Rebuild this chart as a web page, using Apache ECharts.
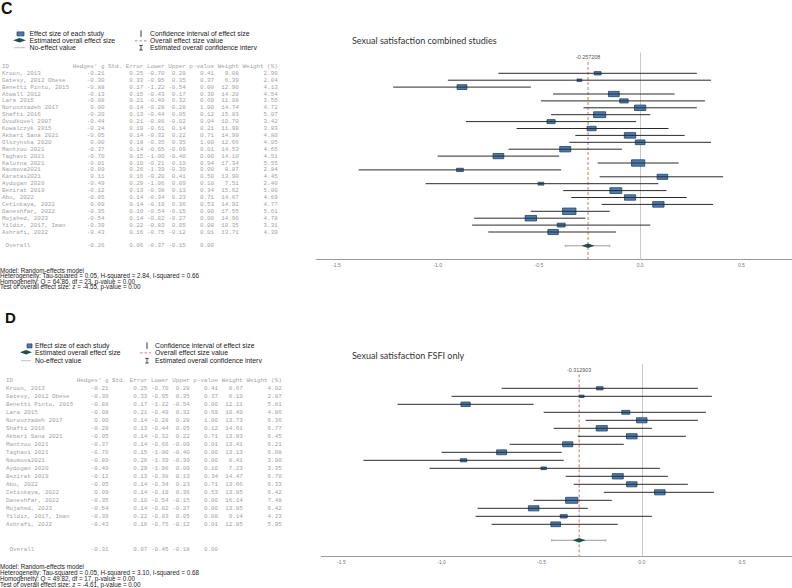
<!DOCTYPE html>
<html><head><meta charset="utf-8">
<script src="https://cdn.jsdelivr.net/npm/echarts@6/dist/echarts.min.js"></script>
<style>html,body{margin:0;padding:0;background:#fff}#c{width:792px;height:588px}</style>
</head><body><div id="c"></div>
<script>
// ---------- Panel C data (combined studies) ----------
const cIds = ["Kroon, 2013","Gatesy, 2012 Obese","Benetti Pinto, 2015","Atwall 2012","Lara 2015","Norouzzadeh 2017","Shafti 2016","Ovodkovel 2007","Kowalczyk 2015","Akbari Sana 2021","Olszynska 2020","Mantzou 2021","Taghavi 2021","Kaluzna 2021","Naumova2021","Karatas2021","Aydogan 2020","Bezirat 2019","Abu, 2022","Cetinkaya, 2022","Daneshfar, 2022","Mojahed, 2023","Yildiz, 2017, Iman","Ashrafi, 2022"];
const cG  = [-0.21,-0.30,-0.88,-0.13,-0.08,0.00,-0.20,-0.44,-0.24,-0.05,0.00,-0.37,-0.70,-0.01,-0.89,0.11,-0.49,-0.12,-0.05,0.09,-0.35,-0.54,-0.39,-0.43];
const cSE = [0.25,0.33,0.17,0.15,0.21,0.14,0.13,0.21,0.19,0.14,0.18,0.14,0.15,0.10,0.26,0.16,0.29,0.13,0.14,0.14,0.10,0.14,0.22,0.16];
const cLo = [-0.70,-0.95,-1.22,-0.43,-0.49,-0.28,-0.44,-0.86,-0.61,-0.32,-0.35,-0.65,-1.00,-0.21,-1.39,-0.20,-1.06,-0.38,-0.34,-0.19,-0.54,-0.82,-0.83,-0.75];
const cUp = [0.28,0.35,-0.54,0.17,0.32,0.28,0.05,-0.02,0.14,0.22,0.35,-0.09,-0.40,0.19,-0.39,0.41,0.09,0.13,0.23,0.36,-0.15,-0.27,0.05,-0.12];
const cP  = [0.41,0.37,0.00,0.39,0.69,1.00,0.12,0.04,0.21,0.71,1.00,0.01,0.00,0.94,0.00,0.50,0.10,0.34,0.71,0.53,0.00,0.00,0.08,0.01];
const cW  = [9.08,6.39,12.90,14.20,11.08,14.74,15.83,10.70,11.98,14.99,12.66,14.53,14.10,17.34,8.87,13.90,7.51,15.62,14.67,14.92,17.55,14.96,10.35,13.71];
const cWp = [2.90,2.04,4.13,4.54,3.55,4.72,5.07,3.42,3.83,4.80,4.05,4.65,4.51,5.55,2.84,4.45,2.40,5.00,4.69,4.77,5.61,4.78,3.31,4.39];
const cOverall = [-0.26,0.06,-0.37,-0.15,0.00];
const cOverallExact = -0.257208;
const cStats = ["Model: Random-effects model","Heterogeneity: Tau-squared = 0.05, H-squared = 2.84, I-squared = 0.66","Homogeneity: Q = 64.86, df = 23, p-value = 0.00","Test of overall effect size: z = -4.55, p-value = 0.00"];

// ---------- Panel D data (FSFI only) ----------
const dIds = ["Kroon, 2013","Gatesy, 2012 Obese","Benetti Pinto, 2015","Lara 2015","Norouzzadeh 2017","Shafti 2016","Akbari Sana 2021","Mantzou 2021","Taghavi 2021","Naumova2021","Aydogan 2020","Bezirat 2019","Abu, 2022","Cetinkaya, 2022","Daneshfar, 2022","Mojahed, 2023","Yildiz, 2017, Iman","Ashrafi, 2022"];
const dG  = [-0.21,-0.30,-0.88,-0.08,0.00,-0.20,-0.05,-0.37,-0.70,-0.89,-0.49,-0.12,-0.05,0.09,-0.35,-0.54,-0.39,-0.43];
const dSE = [0.25,0.33,0.17,0.21,0.14,0.13,0.14,0.14,0.15,0.26,0.29,0.13,0.14,0.14,0.10,0.14,0.22,0.16];
const dLo = [-0.70,-0.95,-1.22,-0.49,-0.28,-0.44,-0.32,-0.66,-1.00,-1.39,-1.06,-0.38,-0.34,-0.19,-0.54,-0.82,-0.83,-0.75];
const dUp = [0.28,0.35,-0.54,0.32,0.28,0.05,0.22,-0.09,-0.40,-0.39,0.09,0.13,0.23,0.36,-0.15,-0.27,0.05,-0.12];
const dP  = [0.41,0.37,0.00,0.69,1.00,0.12,0.71,0.01,0.00,0.00,0.10,0.34,0.71,0.53,0.00,0.00,0.08,0.01];
const dW  = [8.67,6.19,12.11,10.49,13.73,14.61,13.93,13.41,13.13,8.41,7.23,14.47,13.66,13.85,16.14,13.85,9.14,12.85];
const dWp = [4.02,2.87,5.61,4.86,6.36,6.77,6.45,6.21,6.08,3.90,3.35,6.70,6.33,6.42,7.48,6.42,4.23,5.95];
const dOverall = [-0.31,0.07,-0.45,-0.18,0.00];
const dOverallExact = -0.312903;
const dStats = ["Model: Random-effects model","Heterogeneity: Tau-squared = 0.05, H-squared = 3.10, I-squared = 0.68","Homogeneity: Q = 49.82, df = 17, p-value = 0.00","Test of overall effect size: z = -4.61, p-value = 0.00"];

const tickValues = [-1.5,-1.0,-0.5,0.0,0.5];
const noEffect = 0;
const legendLabels = ["Effect size of each study","Estimated overall effect size","No-effect value","Confidence interval of effect size","Overall effect size value","Estimated overall confidence interv"];
const titles = ["Sexual satisfaction combined studies","Sexual satisfaction FSFI only"];

// ---------- helpers ----------
const NB = '\u00A0';
const f2 = v => (Math.abs(v) < 1e-9 ? 0 : v).toFixed(2);
function tableRows(ids, g, se, lo, up, p, w, wp, ov, ovRow) {
  const rows = [[-1, 'ID'.padEnd(20) + "Hedges' g Std. Error Lower Upper p-value Weight Weight (%)"]];
  ids.forEach((id, i) => rows.push([i, id.padEnd(20) + f2(g[i]).padStart(9) + f2(se[i]).padStart(11) +
    f2(lo[i]).padStart(6) + f2(up[i]).padStart(6) + f2(p[i]).padStart(8) + f2(w[i]).padStart(7) + f2(wp[i]).padStart(11)]));
  rows.push([ovRow, ' Overall'.padEnd(20) + f2(ov[0]).padStart(9) + f2(ov[1]).padStart(11) +
    f2(ov[2]).padStart(6) + f2(ov[3]).padStart(6) + f2(ov[4]).padStart(8)]);
  return rows.map(r => [r[0], r[1].replace(/ /g, NB)]);
}

const BOX_FILL = '#4a7db3', BOX_STROKE = '#22405f', DIAMOND = '#1c4f4f';
const MONO = '5.9px "Liberation Mono", "DejaVu Sans Mono", monospace';

function panel(cfg) {
  const { gi, tableX, ids, g, lo, up, w, rows, ov, ovExact, yMin, yMax, labelRow } = cfg;
  const series = [];
  series.push({
    type: 'custom', xAxisIndex: gi * 2, yAxisIndex: gi * 2, silent: true,
    data: rows.map(r => [tableX, r[0]]),
    renderItem: (params, api) => {
      const pt = api.coord([api.value(0), api.value(1)]);
      return { type: 'text', x: pt[0], y: pt[1],
        style: { text: rows[params.dataIndex][1], font: MONO, lineHeight: 5.5, fill: '#a2a2a2', align: 'left', verticalAlign: 'middle' } };
    }
  });
  series.push({
    type: 'custom', xAxisIndex: gi * 2 + 1, yAxisIndex: gi * 2 + 1, silent: true, data: [[noEffect]],
    renderItem: (params, api) => {
      const a = api.coord([api.value(0), yMin]), b = api.coord([api.value(0), yMax]);
      return { type: 'line', shape: { x1: Math.round(a[0]) + 0.5, y1: a[1], x2: Math.round(b[0]) + 0.5, y2: b[1] }, style: { stroke: '#c8c8c8', lineWidth: 1 } };
    }
  });
  series.push({
    type: 'custom', xAxisIndex: gi * 2 + 1, yAxisIndex: gi * 2 + 1, silent: true, data: [[ovExact]],
    renderItem: (params, api) => {
      const t = api.coord([api.value(0), labelRow]);
      const b = api.coord([api.value(0), yMax]);
      return { type: 'group', children: [
        { type: 'line', shape: { x1: t[0], y1: t[1] + 4.5, x2: b[0], y2: b[1] }, style: { stroke: '#c0504d', lineWidth: 0.8, lineDash: [3, 2] } },
        { type: 'text', x: t[0], y: t[1], style: { text: String(api.value(0)), font: '5.4px "Liberation Sans", Arial, sans-serif', fill: '#555', align: 'center', verticalAlign: 'middle' } }
      ] };
    }
  });
  series.push({
    type: 'custom', xAxisIndex: gi * 2 + 1, yAxisIndex: gi * 2 + 1, silent: true,
    data: g.map((v, i) => [v, i, lo[i], up[i], w[i]]),
    renderItem: (params, api) => {
      const row = api.value(1);
      const c = api.coord([api.value(0), row]);
      const l = api.coord([api.value(2), row]);
      const u = api.coord([api.value(3), row]);
      const bw = api.value(4) * 0.76, bh = api.value(4) * 0.37;
      return { type: 'group', children: [
        { type: 'rect', shape: { x: c[0] - bw / 2, y: c[1] - bh / 2, width: bw, height: bh }, style: { fill: BOX_FILL, stroke: BOX_STROKE, lineWidth: 0.8 } },
        { type: 'line', shape: { x1: l[0], y1: c[1], x2: u[0], y2: c[1] }, style: { stroke: '#2a2a2a', lineWidth: 1 } }
      ] };
    }
  });
  series.push({
    type: 'custom', xAxisIndex: gi * 2 + 1, yAxisIndex: gi * 2 + 1, silent: true,
    data: [[ovExact, ids.length + 1, ov[2], ov[3]]],
    renderItem: (params, api) => {
      const row = api.value(1);
      const c = api.coord([api.value(0), row]);
      const l = api.coord([api.value(2), row]);
      const u = api.coord([api.value(3), row]);
      return { type: 'group', children: [
        { type: 'line', shape: { x1: l[0], y1: c[1], x2: u[0], y2: c[1] }, style: { stroke: '#9a9a9a', lineWidth: 1 } },
        { type: 'line', shape: { x1: l[0], y1: c[1] - 1.2, x2: l[0], y2: c[1] + 1.2 }, style: { stroke: '#9a9a9a', lineWidth: 0.8 } },
        { type: 'line', shape: { x1: u[0], y1: c[1] - 1.2, x2: u[0], y2: c[1] + 1.2 }, style: { stroke: '#9a9a9a', lineWidth: 0.8 } },
        { type: 'polygon', shape: { points: [[c[0] - 6.5, c[1]], [c[0], c[1] - 2.3], [c[0] + 6.5, c[1]], [c[0], c[1] + 2.3]] }, style: { fill: DIAMOND } }
      ] };
    }
  });
  return series;
}

const cRows = tableRows(cIds, cG, cSE, cLo, cUp, cP, cW, cWp, cOverall, cIds.length + 1);
const dRows = tableRows(dIds, dG, dSE, dLo, dUp, dP, dW, dWp, dOverall, dIds.length + 2.2);

const C_TOP = 52.6, C_H = 207, D_TOP = 364.3, D_H = 192;

function tableXAxis(gi) { return { type: 'value', gridIndex: gi, min: 0, max: 320, show: false }; }
function forestXAxis(gi) {
  return { type: 'value', gridIndex: gi, min: -1.6, max: 0.75, splitLine: { show: false },
    axisLine: { show: true, onZero: false, lineStyle: { color: '#9a9a9a', width: 1 } }, axisTick: { show: false },
    axisLabel: { customValues: tickValues, formatter: v => v.toFixed(1), fontSize: 5, color: '#777', margin: 3, fontFamily: 'Liberation Sans' } };
}
function yAx(gi, min, max) { return { type: 'value', gridIndex: gi, min, max, inverse: true, show: false }; }

const sans = '"Liberation Sans", Arial, sans-serif';
function txt(x, y, text, size, opts) {
  return Object.assign({ type: 'text', x, y, silent: true, style: Object.assign({ text, font: size + 'px ' + sans, fill: '#222', verticalAlign: 'middle' }, (opts || {})) });
}
function legend(ox, oy, ox2, s, lh) {
  const o = { lineHeight: lh };
  return [
    { type: 'rect', shape: { x: ox.sq, y: oy[0] - 2, width: ox.sqw, height: 4 }, style: { fill: BOX_FILL, stroke: BOX_STROKE, lineWidth: 0.7 } },
    { type: 'polygon', shape: { points: [[ox.d0, oy[1]], [(ox.d0 + ox.d1) / 2, oy[1] - 2.2], [ox.d1, oy[1]], [(ox.d0 + ox.d1) / 2, oy[1] + 2.2]] }, style: { fill: DIAMOND } },
    { type: 'line', shape: { x1: ox.d0 + 1, y1: oy[2], x2: ox.d1 - 1, y2: oy[2] }, style: { stroke: '#b0b0b0', lineWidth: 0.8 } },
    txt(ox.t, oy[0], legendLabels[0], s, o), txt(ox.t, oy[1], legendLabels[1], s, o), txt(ox.t, oy[2], legendLabels[2], s, o),
    { type: 'line', shape: { x1: ox2.v, y1: oy[0] - 3.5, x2: ox2.v, y2: oy[0] + 3 }, style: { stroke: '#222', lineWidth: 0.9 } },
    { type: 'line', shape: { x1: ox2.r0, y1: oy[1] + 0.5, x2: ox2.r1, y2: oy[1] + 0.5 }, style: { stroke: '#c0504d', lineWidth: 0.7, lineDash: [2.5, 2] } },
    { type: 'line', shape: { x1: ox2.v, y1: oy[2] - 2.3, x2: ox2.v, y2: oy[2] + 2.3 }, style: { stroke: '#222', lineWidth: 0.8 } },
    { type: 'line', shape: { x1: ox2.v - 1.8, y1: oy[2] - 2.3, x2: ox2.v + 1.8, y2: oy[2] - 2.3 }, style: { stroke: '#222', lineWidth: 0.8 } },
    { type: 'line', shape: { x1: ox2.v - 1.8, y1: oy[2] + 2.3, x2: ox2.v + 1.8, y2: oy[2] + 2.3 }, style: { stroke: '#222', lineWidth: 0.8 } },
    txt(ox2.t, oy[0], legendLabels[3], s, o), txt(ox2.t, oy[1], legendLabels[4], s, o), txt(ox2.t, oy[2], legendLabels[5], s, o)
  ];
}

const graphics = [].concat(
  [txt(1, 8, 'C', 16, { font: 'bold 16px ' + sans, fill: '#111' })],
  legend({ sq: 17, sqw: 7, d0: 13, d1: 26, t: 29.5 }, [33.9, 40.3, 47.7], { v: 141, r0: 135, r1: 147, t: 150 }, 6.9, 5.8),
  [txt(352, 40, titles[0], 9, { font: '9px Lato, "Open Sans", sans-serif', fill: '#333' })],
  cStats.map((s, i) => txt(0, [270, 275.6, 281.2, 286.8][i], s, 6.3, { lineHeight: 5.2 })),
  [txt(5, 317, 'D', 14, { font: 'bold 15px ' + sans, fill: '#111' })],
  legend({ sq: 27, sqw: 5, d0: 20, d1: 32, t: 35 }, [345.9, 352.3, 360.7], { v: 147, r0: 140, r1: 151, t: 155 }, 6.9, 5.8),
  [txt(352, 355, titles[1], 9, { font: '9px Lato, "Open Sans", sans-serif', fill: '#333' })],
  dStats.map((s, i) => txt(0, [566.6, 572.4, 578.2, 584][i], s, 6.3, { lineHeight: 5.4 }))
);

const option = {
  backgroundColor: '#fff',
  animation: false,
  grid: [
    { left: 0, top: C_TOP, width: 320, height: C_H },
    { left: 316.2, top: C_TOP, width: 477, height: C_H },
    { left: 0, top: D_TOP, width: 320, height: D_H },
    { left: 321.4, top: D_TOP, width: 472.4, height: D_H }
  ],
  xAxis: [tableXAxis(0), forestXAxis(1), tableXAxis(2), forestXAxis(3)],
  yAxis: [yAx(0, -3, 27), yAx(1, -3, 27), yAx(2, -3, 21), yAx(3, -3, 21)],
  series: [].concat(
    panel({ gi: 0, tableX: 2, ids: cIds, g: cG, lo: cLo, up: cUp, w: cW, rows: cRows, ov: cOverall, ovExact: cOverallExact, yMin: -3, yMax: 27, labelRow: -2.3 }),
    panel({ gi: 1, tableX: 6, ids: dIds, g: dG, lo: dLo, up: dUp, w: dW, rows: dRows, ov: dOverall, ovExact: dOverallExact, yMin: -3, yMax: 21, labelRow: -2.3 })
  ),
  graphic: graphics
};
const chart = echarts.init(document.getElementById('c'), null, { renderer: 'svg', width: 792, height: 588 });
chart.setOption(option);
</script></body></html>
